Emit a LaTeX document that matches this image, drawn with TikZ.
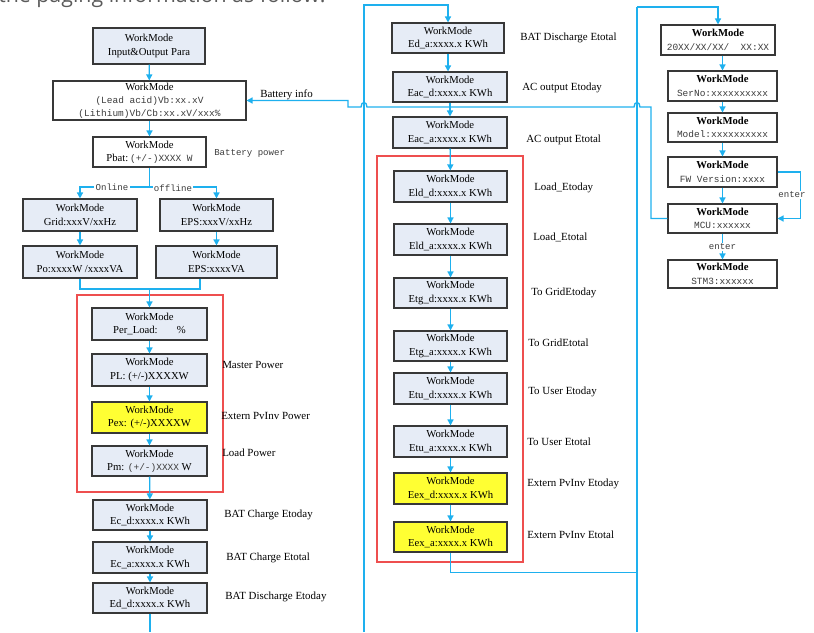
\documentclass[tikz,border=0pt]{standalone}
\usepackage{fontspec}
\setmainfont{Liberation Serif}
\newfontfamily\monof{Liberation Mono}
\newfontfamily\headf{Open Sans}
\usetikzlibrary{arrows.meta,calc}
\definecolor{lnblue}{HTML}{1EB0EE}
\definecolor{redc}{HTML}{EE4F4F}
\definecolor{lightfill}{HTML}{E6ECF6}
\definecolor{yfill}{HTML}{FFFF33}
\definecolor{boxline}{HTML}{383838}
\definecolor{monogray}{HTML}{3C3C3C}
\definecolor{headgray}{HTML}{5A5A5A}
\newcommand{\mtxt}[1]{{\monof\fontsize{7.1}{9}\selectfont\color{monogray}#1}}
\newcommand{\wmbox}[7]{%
  \pgfmathsetmacro{\wmcx}{(#2+#4)/2}%
  \pgfmathsetmacro{\wmcy}{(#3+#5)/2}%
  \pgfmathsetmacro{\wmww}{(#4-#2)*0.75}%
  \pgfmathsetmacro{\wmhh}{(#5-#3)*0.75}%
  \node[#6, minimum width=\wmww pt, minimum height=\wmhh pt] (#1) at (\wmcx,\wmcy) {#7};}
\tikzset{
  wbox/.style={draw=boxline, line width=0.8pt, inner sep=0pt, align=center, fill=white,
    font=\fontsize{8}{10}\selectfont},
  lbox/.style={wbox, fill=lightfill},
  ybox/.style={wbox, fill=yfill},
  conn/.style={draw=lnblue, line width=1pt},
  arr/.style={conn, -{Triangle[length=4.5pt,width=4.5pt]}},
  lab/.style={anchor=west, inner sep=0pt, font=\fontsize{8.2}{10}\selectfont},
  redframe/.style={draw=redc, line width=0.8pt},
  tag/.style={fill=white, inner sep=1pt, font=\monof\fontsize{6.8}{8}\selectfont, text=monogray}
}
\begin{document}
\begin{tikzpicture}[x=0.75pt,y=-0.75pt]
\useasboundingbox (0,0) rectangle (814,632);
\clip (0,0) rectangle (814,632);

\node[anchor=base west, inner sep=0pt, font=\headf\fontsize{16}{18}\selectfont, text=headgray] (hdr) at (-2,2.5) {the paging information as follow:};

% red frames
\draw[redframe] (77,295) rectangle (223,492);
\draw[redframe] (377,156) rectangle (523,562);

% left column
\wmbox{b1}{93}{28}{205}{64}{lbox}{WorkMode\\Input\&Output Para}
\wmbox{b2}{53}{81}{246}{120}{wbox,font=\fontsize{8}{9.8}\selectfont}{WorkMode\\\mtxt{(Lead acid)Vb:xx.xV}\\\mtxt{(Lithium)Vb/Cb:xx.xV/xxx\%}}
\wmbox{b3}{93}{137}{206}{167}{wbox}{WorkMode\\Pbat:\,\mtxt{ (+/-)XXXX W}}
\wmbox{grid}{23}{199}{137}{231}{lbox}{WorkMode\\Grid:xxxV/xxHz}
\wmbox{eps}{160}{199}{273}{231}{lbox}{WorkMode\\EPS:xxxV/xxHz}
\wmbox{po}{23}{246}{137}{278}{lbox}{WorkMode\\Po:xxxxW /xxxxVA}
\wmbox{epsva}{156}{246}{277}{278}{lbox}{WorkMode\\EPS:xxxxVA}
\wmbox{perload}{92}{308}{207}{340}{lbox}{WorkMode\\Per\_Load:\hspace{1.8em}\%}
\wmbox{pl}{92}{354}{207}{386}{lbox}{WorkMode\\PL: (+/-)XXXXW}
\wmbox{pex}{92}{402}{207}{433}{ybox}{WorkMode\\Pex: (+/-)XXXXW}
\wmbox{pm}{92}{446}{207}{476}{lbox}{WorkMode\\Pm: \mtxt{(+/-)XXXX} W}
\wmbox{ecd}{93}{500}{207}{530}{lbox}{WorkMode\\Ec\_d:xxxx.x KWh}
\wmbox{eca}{93}{542}{207}{573}{lbox}{WorkMode\\Ec\_a:xxxx.x KWh}
\wmbox{edd}{93}{583}{207}{613}{lbox}{WorkMode\\Ed\_d:xxxx.x KWh}

% middle column
\wmbox{eda}{392}{23}{504}{53}{lbox}{WorkMode\\Ed\_a:xxxx.x KWh}
\wmbox{eacd}{393}{72}{507}{102}{lbox}{WorkMode\\Eac\_d:xxxx.x KWh}
\wmbox{eaca}{393}{117}{507}{148}{lbox}{WorkMode\\Eac\_a:xxxx.x KWh}
\wmbox{eldd}{394}{171}{507}{202}{lbox}{WorkMode\\Eld\_d:xxxx.x KWh}
\wmbox{elda}{394}{224}{507}{255}{lbox}{WorkMode\\Eld\_a:xxxx.x KWh}
\wmbox{etgd}{394}{278}{507}{308}{lbox}{WorkMode\\Etg\_d:xxxx.x KWh}
\wmbox{etga}{394}{331}{507}{361}{lbox}{WorkMode\\Etg\_a:xxxx.x KWh}
\wmbox{etud}{394}{373}{507}{404}{lbox}{WorkMode\\Etu\_d:xxxx.x KWh}
\wmbox{etua}{394}{426}{507}{457}{lbox}{WorkMode\\Etu\_a:xxxx.x KWh}
\wmbox{eexd}{394}{473}{507}{504}{ybox}{WorkMode\\Eex\_d:xxxx.x KWh}
\wmbox{eexa}{394}{522}{507}{552}{ybox}{WorkMode\\Eex\_a:xxxx.x KWh}

% right column
\wmbox{date}{661}{25}{775}{55}{wbox}{\textbf{WorkMode}\\\mtxt{20XX/XX/XX/\ \ XX:XX}}
\wmbox{serno}{668}{71}{777}{101}{wbox}{\textbf{WorkMode}\\\mtxt{SerNo:xxxxxxxxxx}}
\wmbox{model}{668}{113}{777}{142}{wbox}{\textbf{WorkMode}\\\mtxt{Model:xxxxxxxxxx}}
\wmbox{fw}{668}{157}{777}{187}{wbox}{\textbf{WorkMode}\\\mtxt{FW Version:xxxx}}
\wmbox{mcu}{668}{204}{777}{233}{wbox}{\textbf{WorkMode}\\\mtxt{MCU:xxxxxx}}
\wmbox{stm}{668}{260}{777}{288}{wbox}{\textbf{WorkMode}\\\mtxt{STM3:xxxxxx}}

% labels
\node[lab, font=\monof\fontsize{6.8}{8}\selectfont, text=monogray] (lbp) at (214,153) {Battery power};
\node[lab] (lmp) at (222,365) {Master Power};
\node[lab] (lep) at (221,416) {Extern PvInv Power};
\node[lab] (llp) at (222,453) {Load Power};
\node[lab] (l1) at (224,515) {BAT Charge Etoday};
\node[lab] (l2) at (226,558) {BAT Charge Etotal};
\node[lab] (l3) at (225,597) {BAT Discharge Etoday};
\node[lab] (l4) at (520,38) {BAT Discharge Etotal};
\node[lab] (l5) at (522,88) {AC output Etoday};
\node[lab] (l6) at (526,140) {AC output Etotal};
\node[lab] (l7) at (534,188) {Load\_Etoday};
\node[lab] (l8) at (533,237) {Load\_Etotal};
\node[lab] (l9) at (531,293) {To GridEtoday};
\node[lab] (l10) at (528,343) {To GridEtotal};
\node[lab] (l11) at (528,392) {To User Etoday};
\node[lab] (l12) at (527,442) {To User Etotal};
\node[lab] (l13) at (527,484) {Extern PvInv Etoday};
\node[lab] (l14) at (527,535) {Extern PvInv Etotal};
\node[lab] (lbi) at (260,95) {Battery info};

% coordinates
\coordinate (split) at (149.5,187);
\coordinate (merge) at (149.5,289);
\coordinate (lb) at (364,632);
\coordinate (lt) at (364,5);
\coordinate (rt) at (637,7);
\coordinate (rb) at (637,632);

% left connectors
\draw[arr] (b1) -- (b2);
\draw[arr] (b2) -- (b3);
\draw[conn] (b3.south) -- (split);
\draw[arr] (split) -| (grid.north);
\draw[arr] (split) -| (eps.north);
\node[tag] (online) at (112,187) {Online};
\node[tag] (offline) at (173,188) {offline};
\draw[arr] (grid) -- (po);
\draw[arr] (eps) -- (epsva);
\draw[conn] (po.south) |- (merge);
\draw[conn] ([xshift=-12.4pt]epsva.south) |- (merge);
\draw[arr] (merge) -- (perload.north);
\draw[arr] (perload) -- (pl);
\draw[arr] (pl) -- (pex);
\draw[arr] (pex) -- (pm);
\draw[arr] (pm) -- (ecd);
\draw[arr] (ecd) -- (eca);
\draw[arr] (eca) -- (edd);
\draw[conn] (edd.south) -- (edd.south |- lb);

% middle connectors
\draw[arr] (lb) -- (lt) -| (eda.north);
\draw[arr] (eda.south) -- (eda.south |- eacd.north);
\draw[arr] (eacd.south) -- (eacd.south |- eaca.north);
\draw[arr] (eaca) -- (eldd);
\draw[arr] (eldd) -- (elda);
\draw[arr] (elda) -- (etgd);
\draw[arr] (etgd) -- (etga);
\draw[arr] (etga) -- (etud);
\draw[arr] (etud) -- (etua);
\draw[arr] (etua) -- (eexd);
\draw[arr] (eexd) -- (eexa);
\draw[conn] (eexa.south) -- ++(0,20) -| (rt);
\draw[conn] (rt) -- (rb);
\draw[arr] (rt) -| (date.north);

% right connectors
\draw[arr] (date.south -| serno.north) -- (serno.north);
\draw[arr] (serno) -- (model);
\draw[arr] (model) -- (fw);
\draw[arr] (fw) -- (mcu);
\draw[arr] (fw.east) -- ++(23,0) |- (mcu.east);
\node[tag] (enter1) at (792,195) {enter};
\draw[arr] (mcu) -- (stm);
\node[tag] (enter2) at (722.5,247) {enter};

% battery info loop
\draw[arr] (mcu.west) -| (651,107) -- (640,107) .. controls (640,101) and (634,101) .. (634,107)
  -- (367,107) .. controls (367,101) and (361,101) .. (361,107) -- (348,107) -- (348,100.5) -- (b2.east);
\end{tikzpicture}
\end{document}
